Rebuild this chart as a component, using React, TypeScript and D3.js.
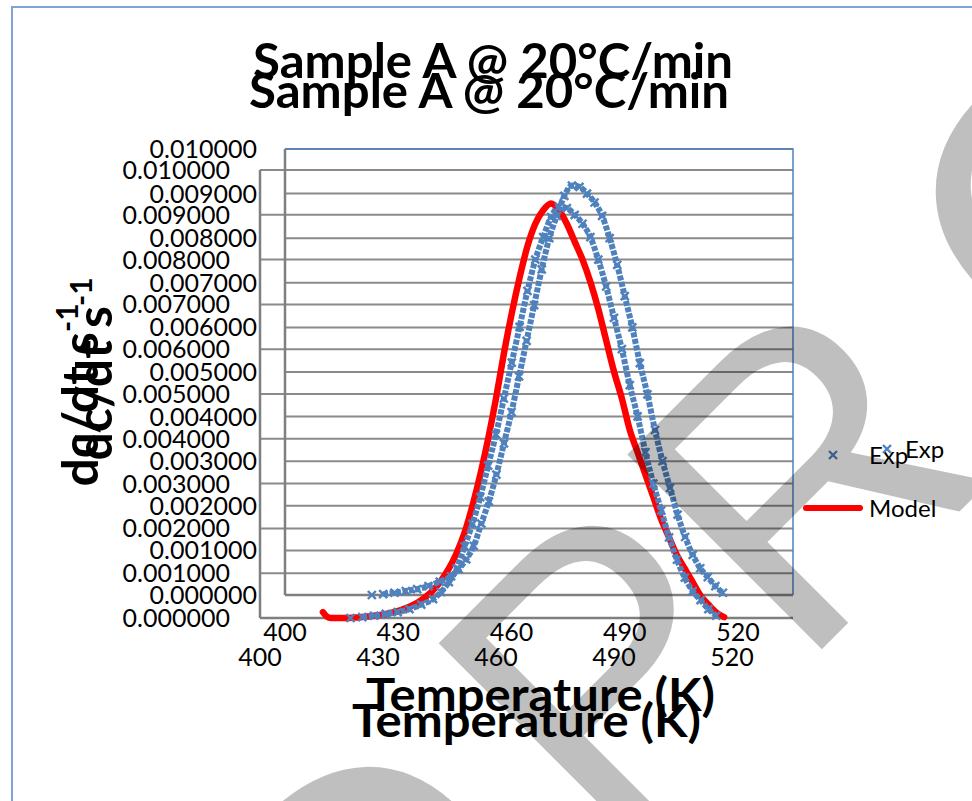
import * as d3 from 'd3';

// Exp series (K, dc/dt)
const expTemp = [423, 426, 429, 432, 435, 438, 441, 444, 446, 448, 450, 452, 454, 456, 458, 460, 462, 464, 466, 468, 470, 472, 474, 476, 478, 480, 482, 484, 486, 488, 490, 492, 494, 496, 498, 500, 502, 504, 506, 508, 510, 512, 514, 516];
const expRate = [0.0, 0.00002, 0.00005, 0.00009, 0.00013, 0.0002, 0.0003, 0.00042, 0.00058, 0.0008, 0.0011, 0.0016, 0.0021, 0.0027, 0.0034, 0.0041, 0.0049, 0.0057, 0.0065, 0.0073, 0.008, 0.0085, 0.00895, 0.00918, 0.00915, 0.009, 0.0088, 0.0085, 0.008, 0.0074, 0.0067, 0.006, 0.0052, 0.0045, 0.0037, 0.003, 0.0024, 0.0018, 0.0013, 0.0009, 0.0006, 0.0004, 0.0002, 0.00005];

// Model series
const modelTemp = [416, 417, 418, 420, 422, 424, 426, 428, 430, 432, 434, 436, 438, 440, 442, 444, 446, 448, 450, 452, 454, 456, 458, 460, 462, 464, 466, 468, 470, 472, 474, 476, 478, 480, 482, 484, 486, 488, 490, 492, 494, 496, 498, 500, 502, 504, 506, 508, 510, 512, 514, 516, 518];
const modelRate = [0.00013, 0.00003, 0, 0, 0, 0.00001, 0.00002, 0.00004, 0.00006, 0.00009, 0.00013, 0.00018, 0.00025, 0.00034, 0.00046, 0.00062, 0.00083, 0.0011, 0.00145, 0.0019, 0.0025, 0.0032, 0.004, 0.0049, 0.0059, 0.0068, 0.0076, 0.0083, 0.0088, 0.0091, 0.00925, 0.0091, 0.0088, 0.0084, 0.008, 0.0075, 0.0069, 0.0062, 0.0055, 0.0049, 0.0042, 0.0037, 0.0032, 0.0027, 0.0022, 0.0018, 0.0014, 0.0011, 0.0008, 0.0005, 0.0003, 0.00012, 0.00002];

const xTicks = [400, 430, 460, 490, 520];
const yTicks = [0, 0.001, 0.002, 0.003, 0.004, 0.005, 0.006, 0.007, 0.008, 0.009, 0.01];

const chartTitle = 'Sample A @ 20°C/min';
const xTitle = 'Temperature (K)';
const seriesNames = ['Exp', 'Model'];

const W = 972;
const H = 801;
const BLUE = '#4F81BD';
const GRID = '#8a8a8a';
const FONT = "Lato, 'Open Sans', sans-serif";

const exp = expTemp.map((t, i) => ({ t, v: expRate[i] }));
const model = modelTemp.map((t, i) => ({ t, v: modelRate[i] }));
const fmt = d3.format('.6f');

// the picture is two copies of the same Excel chart laid over each other
const layerA = { left: 285, right: 793, top: 149, bottom: 595, x520: 738 };
const layerB = { left: 260, right: 793, top: 170, bottom: 618, x520: 732 };

function scalesFor(l) {
  const x = d3.scaleLinear().domain([400, 520]).range([l.left, l.x520]);
  const y = d3.scaleLinear().domain([0, 0.01]).range([l.bottom, l.top]);
  return { x, y };
}

const XMark = ({ x, y }) => (
  <path d={`M${x - 4},${y - 4}L${x + 4},${y + 4}M${x - 4},${y + 4}L${x + 4},${y - 4}`}
    stroke={BLUE} strokeWidth={2.4} />
);

function Grid({ l, border }) {
  const { y } = scalesFor(l);
  return (
    <g>
      {yTicks.map(t => (
        <line key={t} x1={l.left} x2={l.right} y1={y(t)} y2={y(t)} stroke={GRID} strokeWidth={2} />
      ))}
      <line x1={l.left} x2={l.left} y1={l.top} y2={l.bottom} stroke="#7f7f7f" strokeWidth={2.5} />
      <line x1={l.left} x2={l.right} y1={l.bottom} y2={l.bottom} stroke="#7f7f7f" strokeWidth={2.5} />
      {border && (
        <path d={`M${l.left},${l.top}H${l.right}V${l.bottom}`} fill="none" stroke={BLUE} strokeWidth={1.5} />
      )}
    </g>
  );
}

function Curves({ l, withModel }) {
  const { x, y } = scalesFor(l);
  const line = d3.line().x(d => x(d.t)).y(d => y(d.v)).curve(d3.curveMonotoneX);
  return (
    <g>
      {withModel && (
        <path d={line(model)} fill="none" stroke="#FF0000" strokeWidth={6.5} strokeLinecap="round" strokeLinejoin="round" />
      )}
      <path d={line(exp.slice(1))} fill="none" stroke={BLUE} strokeWidth={6} strokeDasharray="5 1.5" />
      {exp.map((d, i) => <XMark key={i} x={x(d.t)} y={y(d.v)} />)}
    </g>
  );
}

function Labels({ l, yRight, xRowY }) {
  const { x, y } = scalesFor(l);
  return (
    <g fontFamily={FONT} fontSize={25} fill="#000">
      {yTicks.map(t => (
        <text key={t} x={yRight} y={y(t)} dy="0.36em" textAnchor="end">{fmt(t)}</text>
      ))}
      {xTicks.map(t => (
        <text key={t} x={x(t)} y={xRowY} dy="0.36em" textAnchor="middle">{t}</text>
      ))}
    </g>
  );
}

export default function App() {
  return (
    <svg width={W} height={H} viewBox={`0 0 ${W} ${H}`}
      style={{ position: 'absolute', left: 0, top: 0, background: '#fff' }}>
      <rect x={0} y={0} width={W} height={H} fill="#fff" />
      <rect x={12} y={7} width={W + 20} height={H + 20} fill="none" stroke="#7ea3d4" strokeWidth={2} />

      <Grid l={layerB} border={false} />
      <Grid l={layerA} border={true} />
      <Curves l={layerB} withModel={true} />
      <Curves l={layerA} withModel={false} />

      <Labels l={layerA} yRight={257} xRowY={632} />
      <Labels l={layerB} yRight={230} xRowY={657} />

      {/* titles */}
      <g fontFamily={FONT} fontWeight="bold" fill="#000">
        <text x={253} y={78} fontSize={48} textLength={480} lengthAdjust="spacingAndGlyphs">{chartTitle}</text>
        <text x={249} y={108} fontSize={48} textLength={480} lengthAdjust="spacingAndGlyphs">{chartTitle}</text>
        <text x={366} y={711} fontSize={46} textLength={349} lengthAdjust="spacingAndGlyphs">{xTitle}</text>
        <text x={352} y={737} fontSize={46} textLength={349} lengthAdjust="spacingAndGlyphs">{xTitle}</text>
        <text transform="translate(112,369) rotate(-90)" textAnchor="middle" fontSize={50}>
          dc/dt s<tspan dy={-20} fontSize={30}>-1</tspan>
        </text>
        <text transform="translate(98,395) rotate(-90)" textAnchor="middle" fontSize={50}>
          dc/dt s<tspan dy={-20} fontSize={30}>-1</tspan>
        </text>
      </g>

      {/* legends */}
      <g fontFamily={FONT} fontSize={24} fill="#000">
        <XMark x={833} y={455} />
        <text x={869} y={455} dy="0.36em">{seriesNames[0]}</text>
        <line x1={806} x2={860} y1={508} y2={508} stroke="#FF0000" strokeWidth={6} strokeLinecap="round" />
        <text x={869} y={508} dy="0.36em">{seriesNames[1]}</text>
        <XMark x={887} y={449} />
        <text x={905} y={449} dy="0.36em">{seriesNames[0]}</text>
      </g>

      {/* watermark */}
      <g transform="translate(610,861) rotate(-45)" fontFamily="'Liberation Sans', Arial, sans-serif"
        fontSize={400} fill="#000" fillOpacity={0.25}>
        <text x={0} y={0}>PR<tspan dx={92}>OOF</tspan></text>
        <text x={-50} y={0} textAnchor="end">UNCORRECTED</text>
      </g>
    </svg>
  );
}
